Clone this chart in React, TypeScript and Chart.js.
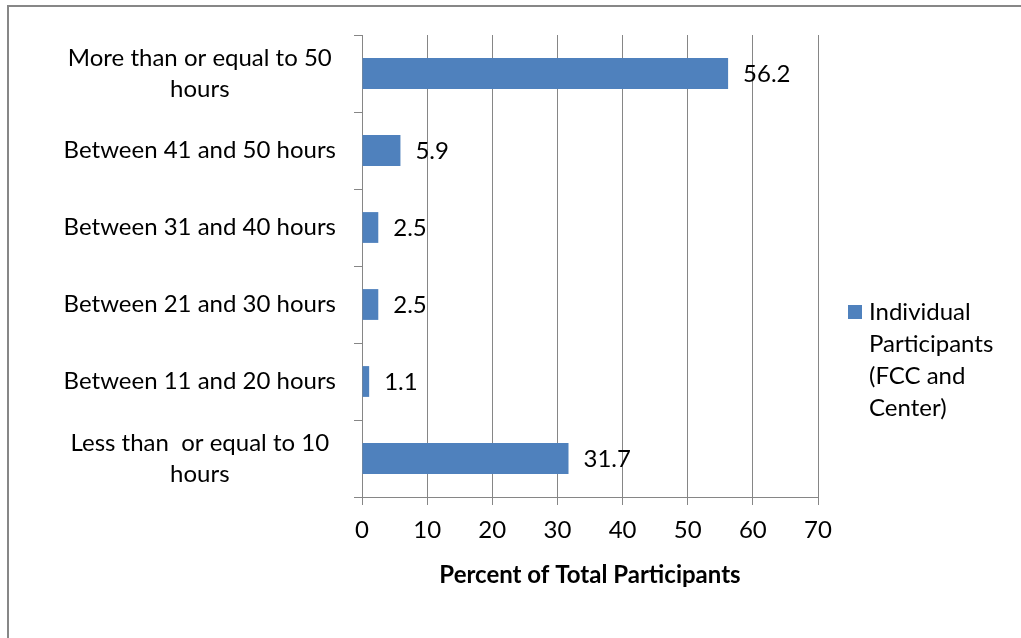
import React, { useEffect, useRef } from "react";
import { Chart, registerables } from "chart.js";

Chart.register(...registerables);

const categories: (string | string[])[] = [
  ["More than or equal to 50", "hours"],
  "Between 41 and 50 hours",
  "Between 31 and 40 hours",
  "Between 21 and 30 hours",
  "Between 11 and 20 hours",
  ["Less than  or equal to 10", "hours"],
];
const values: number[] = [56.2, 5.9, 2.5, 2.5, 1.1, 31.7];
const seriesName = "Individual Participants (FCC and Center)";
const legendLines: string[] = ["Individual", "Participants", "(FCC and", "Center)"];
const xMin = 0;
const xMax = 70;
const xStep = 10;
const xTitle = "Percent of Total Participants";

const FONT = "Lato, 'Open Sans', sans-serif";
const FS = 24;
const BAR = "#4F81BD";
const GRID = "#868686";

const dataLabelPlugin = {
  id: "dataLabels",
  afterDatasetsDraw(chart: any) {
    const ctx = chart.ctx;
    const meta = chart.getDatasetMeta(0);
    ctx.save();
    ctx.font = `${FS}px ${FONT}`;
    ctx.fillStyle = "#000";
    ctx.textAlign = "left";
    ctx.textBaseline = "middle";
    meta.data.forEach((bar: any, i: number) => {
      ctx.fillText(String(values[i]), bar.x + 15, bar.y + 1);
    });
    ctx.restore();
  },
};

const legendPlugin = {
  id: "wrapLegend",
  afterDraw(chart: any) {
    const ctx = chart.ctx;
    const ca = chart.chartArea;
    const boxX = ca.right + 30;
    const firstY = 312;
    const lh = 32;
    ctx.save();
    ctx.fillStyle = BAR;
    ctx.fillRect(boxX, firstY - 7, 14, 14);
    ctx.font = `${FS}px ${FONT}`;
    ctx.fillStyle = "#000";
    ctx.textAlign = "left";
    ctx.textBaseline = "middle";
    legendLines.forEach((line, i) => {
      ctx.fillText(line, boxX + 21, firstY + i * lh);
    });
    ctx.restore();
  },
};

export default function App() {
  const ref = useRef<HTMLCanvasElement | null>(null);

  useEffect(() => {
    if (!ref.current) return;
    const chart = new Chart(ref.current, {
      type: "bar",
      data: {
        labels: categories,
        datasets: [
          {
            label: seriesName,
            data: values,
            backgroundColor: BAR,
            barPercentage: 0.4,
            categoryPercentage: 1.0,
          },
        ],
      },
      options: {
        indexAxis: "y",
        animation: false,
        responsive: false,
        maintainAspectRatio: false,
        layout: { padding: { left: 0, top: 35, right: 203, bottom: 0 } },
        plugins: {
          legend: { display: false },
          tooltip: { enabled: false },
        },
        scales: {
          y: {
            type: "category",
            grid: {
              drawOnChartArea: false,
              drawTicks: true,
              tickLength: 8,
              offset: true,
              color: GRID,
            },
            border: { color: GRID },
            ticks: {
              crossAlign: "center",
              padding: 18,
              color: "#000",
              font: { family: FONT, size: FS, lineHeight: 1.3 },
            },
            afterFit: (s: any) => {
              s.width = 362;
              s.paddingTop = 0;
              s.paddingBottom = 0;
            },
          },
          x: {
            type: "linear",
            min: xMin,
            max: xMax,
            grid: { color: GRID, tickLength: 8 },
            border: { color: GRID },
            ticks: {
              stepSize: xStep,
              color: "#000",
              padding: 11,
              font: { family: FONT, size: FS },
            },
            title: {
              display: true,
              text: xTitle,
              color: "#000",
              font: { family: FONT, size: FS, weight: "bold", lineHeight: 1.2 },
              padding: { top: 4, bottom: 48 },
            },
            afterFit: (s: any) => {
              s.height = 141;
            },
          },
        },
      },
      plugins: [dataLabelPlugin, legendPlugin],
    });
    return () => chart.destroy();
  }, []);

  return (
    <div style={{ position: "fixed", left: 0, top: 0, width: 1021, height: 638, background: "#fff" }}>
      <canvas ref={ref} width={1021} height={638} style={{ position: "absolute", left: 0, top: 0 }} />
      <div
        style={{
          position: "absolute",
          left: 7,
          top: 5,
          width: 1014,
          height: 633,
          borderLeft: "2px solid #878787",
          borderTop: "2px solid #878787",
          pointerEvents: "none",
        }}
      />
    </div>
  );
}
